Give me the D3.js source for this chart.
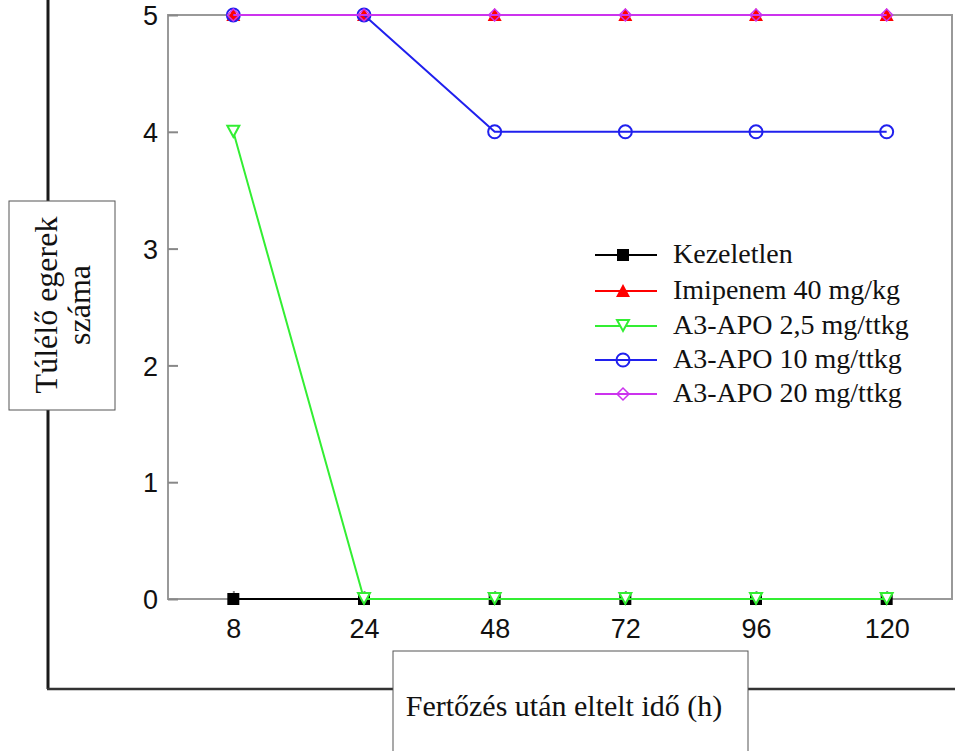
<!DOCTYPE html>
<html><head><meta charset="utf-8">
<script src="https://cdn.jsdelivr.net/npm/d3@7"></script>
<style>html,body{margin:0;padding:0;background:#fff;}svg{display:block;}</style>
</head><body>
<svg id="c" width="955" height="751"></svg>
<script>
const categories = ["8", "24", "48", "72", "96", "120"];
const yTicks = [0, 1, 2, 3, 4, 5];
const seriesNames = ["Kezeletlen", "Imipenem 40 mg/kg", "A3-APO 2,5 mg/ttkg", "A3-APO 10 mg/ttkg", "A3-APO 20 mg/ttkg"];
const kezeletlen = [0, 0, 0, 0, 0, 0];
const imipenem = [5, 5, 5, 5, 5, 5];
const apo25 = [4, 0, 0, 0, 0, 0];
const apo10 = [5, 5, 4, 4, 4, 4];
const apo20 = [5, 5, 5, 5, 5, 5];
const yLabelLines = ["Túlélő egerek", "száma"];
const xLabel = "Fertőzés után eltelt idő (h)";

const styles = [
  {color: "#000000", symbol: "square", fill: true},
  {color: "#ff0000", symbol: "triangle", fill: true},
  {color: "#33ee33", symbol: "tridown", fill: false},
  {color: "#2020ee", symbol: "circle", fill: false},
  {color: "#cc33ee", symbol: "diamond", fill: false}
];
const seriesValues = [kezeletlen, imipenem, apo25, apo10, apo20];

const svg = d3.select("#c");
const L = 168, R = 952, T = 15, B = 599;
const serif = "Liberation Serif, Times New Roman, serif";

const x = d3.scalePoint().domain(categories).range([L, R]).padding(0.5);
const y = d3.scaleLinear().domain([0, 5]).range([B, T]);

// outer black frame lines
svg.append("line").attr("x1", 48).attr("x2", 48).attr("y1", 0).attr("y2", 689)
  .attr("stroke", "#1a1a1a").attr("stroke-width", 3);
svg.append("line").attr("x1", 47).attr("x2", 955).attr("y1", 689).attr("y2", 689)
  .attr("stroke", "#333").attr("stroke-width", 2.5);

// plot frame
svg.append("rect").attr("x", L).attr("y", T).attr("width", R - L).attr("height", B - T)
  .attr("fill", "#fff").attr("stroke", "#999").attr("stroke-width", 2);

const yAxis = svg.append("g").attr("transform", `translate(${L},0)`)
  .call(d3.axisLeft(y).tickValues(yTicks).tickFormat(d3.format("d")).tickSizeInner(-10).tickSizeOuter(0).tickPadding(10));
const xAxis = svg.append("g").attr("transform", `translate(0,${B})`)
  .call(d3.axisBottom(x).tickSizeInner(-8).tickSizeOuter(0).tickPadding(20));
[yAxis, xAxis].forEach(g => {
  g.select(".domain").remove();
  g.selectAll(".tick line").attr("stroke", "#888").attr("stroke-width", 2);
  g.selectAll(".tick text").attr("font-family", "Liberation Sans, Arial, sans-serif")
    .attr("font-size", 27).attr("fill", "#111");
});
yAxis.selectAll(".tick text").attr("dy", "0.36em");

function marker(g, sym, cx, cy, st) {
  const fill = st.fill ? st.color : "#fff";
  const sw = 2;
  if (sym === "square") {
    g.append("rect").attr("x", cx - 6).attr("y", cy - 6).attr("width", 12).attr("height", 12)
      .attr("fill", st.color);
  } else if (sym === "triangle") {
    g.append("path").attr("d", `M${cx},${cy - 7}L${cx + 7},${cy + 6}L${cx - 7},${cy + 6}Z`)
      .attr("fill", st.color);
  } else if (sym === "tridown") {
    g.append("path").attr("d", `M${cx - 6},${cy - 6}L${cx + 6},${cy - 6}L${cx},${cy + 5}Z`)
      .attr("fill", fill).attr("stroke", st.color).attr("stroke-width", sw);
  } else if (sym === "circle") {
    g.append("circle").attr("cx", cx).attr("cy", cy).attr("r", 6.5)
      .attr("fill", "none").attr("stroke", st.color).attr("stroke-width", sw);
  } else if (sym === "diamond") {
    g.append("path").attr("d", `M${cx},${cy - 6}L${cx + 6},${cy}L${cx},${cy + 6}L${cx - 6},${cy}Z`)
      .attr("fill", "none").attr("stroke", st.color).attr("stroke-width", 1.5);
  }
}

const line = d3.line().x((d, i) => x(categories[i])).y(d => y(d));
seriesValues.forEach((vals, si) => {
  const st = styles[si];
  const g = svg.append("g");
  g.append("path").datum(vals).attr("d", line).attr("fill", "none")
    .attr("stroke", st.color).attr("stroke-width", 2);
  vals.forEach((v, i) => marker(g, st.symbol, x(categories[i]), y(v), st));
});

// legend
const legRows = [255, 291, 326, 360, 394];
seriesNames.forEach((name, i) => {
  const st = styles[i];
  const g = svg.append("g");
  const ry = legRows[i];
  g.append("line").attr("x1", 595).attr("x2", 657).attr("y1", ry).attr("y2", ry)
    .attr("stroke", st.color).attr("stroke-width", 2);
  marker(g, st.symbol, 623, ry, st);
  g.append("text").attr("x", 673).attr("y", ry + 8).text(name)
    .attr("font-family", serif).attr("font-size", 28).attr("fill", "#111");
});

// y label box
svg.append("rect").attr("x", 9).attr("y", 201).attr("width", 106).attr("height", 209)
  .attr("fill", "#fff").attr("stroke", "#555").attr("stroke-width", 1);
yLabelLines.forEach((t, i) => {
  svg.append("text").attr("transform", `translate(${[57, 90][i]},305) rotate(-90)`)
    .attr("text-anchor", "middle").attr("font-family", serif)
    .attr("font-size", 32).attr("fill", "#111").text(t);
});

// x label box
svg.append("rect").attr("x", 393).attr("y", 651).attr("width", 355).attr("height", 110)
  .attr("fill", "#fff").attr("stroke", "#555").attr("stroke-width", 1);
svg.append("text").attr("x", 564).attr("y", 716).attr("text-anchor", "middle")
  .attr("font-family", serif).attr("font-size", 30).attr("fill", "#111")
  .text(xLabel);
</script>
</body></html>
